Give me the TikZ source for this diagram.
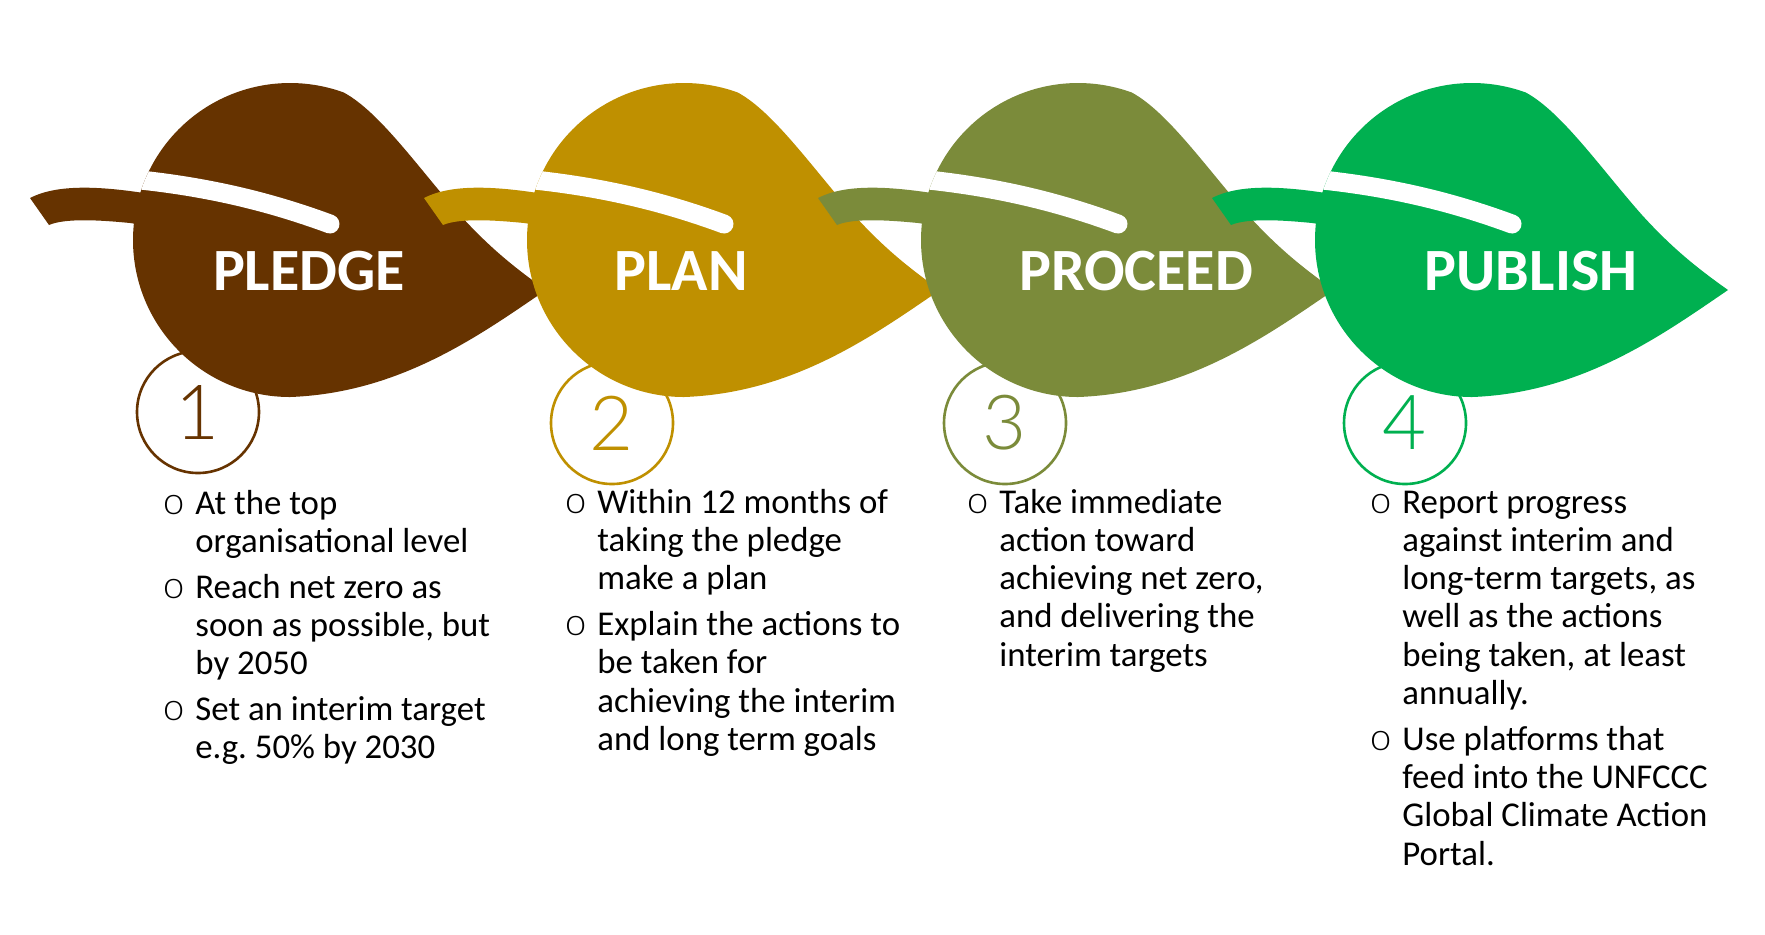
\documentclass[tikz,border=0pt]{standalone}
\usepackage{fontspec}
\setmainfont{Carlito}
\newfontfamily\numfont{Lato Light}

\definecolor{pledgebrown}{HTML}{663300}
\definecolor{plangold}{HTML}{BF9000}
\definecolor{proceedolive}{HTML}{7B8B3A}
\definecolor{publishgreen}{HTML}{00B050}

\tikzset{
    steptitle/.style={anchor=base, inner sep=0pt, text=white, font=\fontsize{30}{30}\selectfont\bfseries},
    numring/.style={circle, draw, line width=1.3pt, minimum size=61pt, inner sep=0pt, font=\numfont\fontsize{38}{38}\selectfont},
    steplist/.style={anchor=base west, inner sep=0pt, font=\fontsize{17.4}{19.15}\selectfont\frenchspacing},
}

\newcommand\bul{\makebox[16pt][l]{\numfont\fontsize{19}{19}\selectfont o}}

% outline of one leaf body, in pixel units of the first leaf
\newcommand\leafpath{(546,290) .. controls (480,335) and (400,393) .. (290,397)
    arc[start angle=90, end angle=290, radius=157]
    .. controls (380,112) and (420,170) .. (460,215)
    .. controls (490,248) and (515,268) .. cycle}

\newcommand\leaf[1]{%
    \fill[#1] \leafpath;
    \begin{scope}
        \clip \leafpath;
        \draw[white, line width=9.5pt, line cap=round] (120,178) .. controls (200,185) and (265,200) .. (330,224);
    \end{scope}
    \fill[#1] (30,198) .. controls (55,185) and (95,185) .. (150,194) -- (150,226) -- (130,223)
        .. controls (100,220) and (65,218) .. (49,225) -- cycle;
}

\begin{document}
\begin{tikzpicture}[x=0.5pt, y=-0.5pt]
    \fill[white] (0,0) rectangle (1765,934);

    % number rings, under the leaves
    \node[numring, draw=pledgebrown, text=pledgebrown] (ring1) at (198,412) {1};
    \node[numring, draw=plangold, text=plangold] (ring2) at (612,423) {2};
    \node[numring, draw=proceedolive, text=proceedolive] (ring3) at (1005,423) {3};
    \node[numring, draw=publishgreen, text=publishgreen] (ring4) at (1405,423) {4};

    % leaves
    \begin{scope}
        \leaf{pledgebrown}
    \end{scope}
    \begin{scope}[shift={(394,0)}]
        \leaf{plangold}
    \end{scope}
    \begin{scope}[shift={(788,0)}]
        \leaf{proceedolive}
    \end{scope}
    \begin{scope}[shift={(1182,0)}]
        \leaf{publishgreen}
    \end{scope}

    \node[steptitle] (pledge) at (309,290) {PLEDGE};
    \node[steptitle] (plan) at (681,290) {PLAN};
    \node[steptitle] (proceed) at (1136,290) {PROCEED};
    \node[steptitle] (publish) at (1531,290) {PUBLISH};

    % bullet lists
    \node[steplist] (list1) at (163,514) {\begin{tabular}[t]{@{}l@{}l@{}}
        \bul & At the top\\
             & organisational level\\[3.75pt]
        \bul & Reach net zero as\\
             & soon as possible, but\\
             & by 2050\\[3.75pt]
        \bul & Set an interim target\\
             & e.g. 50\% by 2030
    \end{tabular}};
    \node[steplist] (list2) at (565,513) {\begin{tabular}[t]{@{}l@{}l@{}}
        \bul & Within 12 months of\\
             & taking the pledge\\
             & make a plan\\[3.75pt]
        \bul & Explain the actions to\\
             & be taken for\\
             & achieving the interim\\
             & and long term goals
    \end{tabular}};
    \node[steplist] (list3) at (967,513) {\begin{tabular}[t]{@{}l@{}l@{}}
        \bul & Take immediate\\
             & action toward\\
             & achieving net zero,\\
             & and delivering the\\
             & interim targets
    \end{tabular}};
    \node[steplist] (list4) at (1370,513) {\begin{tabular}[t]{@{}l@{}l@{}}
        \bul & Report progress\\
             & against interim and\\
             & long-term targets, as\\
             & well as the actions\\
             & being taken, at least\\
             & annually.\\[3.75pt]
        \bul & Use platforms that\\
             & feed into the UNFCCC\\
             & Global Climate Action\\
             & Portal.
    \end{tabular}};
\end{tikzpicture}
\end{document}
